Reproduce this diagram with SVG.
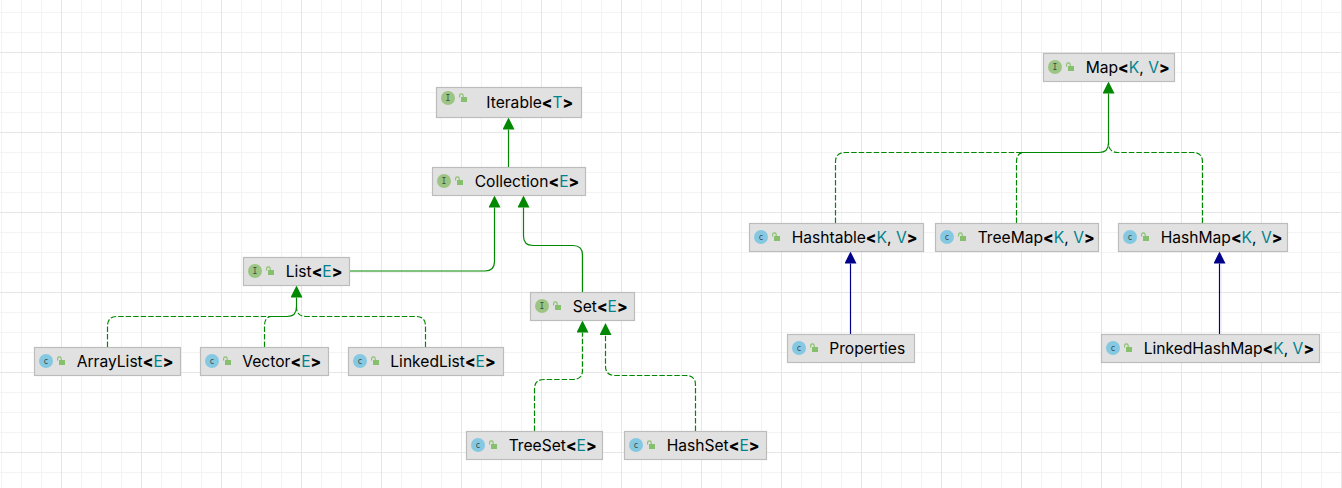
<svg xmlns="http://www.w3.org/2000/svg" xmlns:xlink="http://www.w3.org/1999/xlink" width="1342" height="488" viewBox="0 0 1342 488">
<style>
.box{fill:#e1e1e1;stroke:#bcbcbc;stroke-width:1.2}
.lbl{font-family:Inter,"Liberation Sans",sans-serif;font-size:15.6px;fill:#000}
.b{font-weight:800}
.t{fill:#00838f}
.ic{font-family:"DejaVu Sans Mono","Liberation Mono",monospace;font-size:8px;fill:#3c4a44;text-anchor:middle}
.g{fill:none;stroke:#008800;stroke-width:1.2}
.d{stroke-dasharray:5.5 2}
.n{fill:none;stroke:#00008b;stroke-width:1.2}
</style>
<defs>
<pattern id="minor" x="1" y="12" width="20" height="20" patternUnits="userSpaceOnUse"><path d="M0 0H20V1H1V20H0Z" fill="#f3f3f3"/></pattern>
<pattern id="major" x="61" y="52" width="80" height="80" patternUnits="userSpaceOnUse"><path d="M0 0H80V1H1V80H0Z" fill="#e6e6e6"/></pattern>
<marker id="ag" markerUnits="userSpaceOnUse" markerWidth="12" markerHeight="12" viewBox="0 0 12 12" refX="0" refY="6" orient="auto"><path d="M0 0L12 6L0 12Z" fill="#008800"/></marker>
<marker id="an" markerUnits="userSpaceOnUse" markerWidth="12" markerHeight="12" viewBox="0 0 12 12" refX="0" refY="6" orient="auto"><path d="M0 0L12 6L0 12Z" fill="#00008b"/></marker>
<g id="lock"><path d="M-3.400 -0.500V-2.300A1.800 1.800 0 0 1 0.200 -2.300V-0.500" fill="none" stroke="#86c06c" stroke-width="1.1"/><rect x="-2" y="-1" width="6" height="5" fill="#86c06c"/></g>
</defs>
<rect width="1342" height="488" fill="#fff"/>
<rect width="1342" height="488" fill="url(#minor)"/>
<rect width="1342" height="488" fill="url(#major)"/>
<g id="connectors">
<path class="g" marker-end="url(#ag)" d="M508.500 167V129.500"/>
<path class="g" marker-end="url(#ag)" d="M350 271H485Q494.500 271 494.500 261.500V207.500"/>
<path class="g" marker-end="url(#ag)" d="M582.500 292V255Q582.500 245.500 573 245.500H533Q523.500 245.500 523.500 236V207.500"/>
<path class="g d" d="M107.500 347V326Q107.500 316.500 117 316.500H270"/>
<path class="g d" d="M264.500 347V326Q264.500 316.500 272 316.500"/>
<path class="g" d="M270 316.500H287Q296.500 316.500 296.500 307"/>
<path class="g d" d="M425.500 347V326Q425.500 316.500 416 316.500H306Q296.500 316.500 296.500 307"/>
<path class="g" marker-end="url(#ag)" d="M296.500 307V297.500"/>
<path class="g d" marker-end="url(#ag)" d="M534.500 431V389Q534.500 379.500 544 379.500H573Q582.500 379.500 582.500 370V332.500"/>
<path class="g d" marker-end="url(#ag)" d="M695.500 431V385Q695.500 375.500 686 375.500H615Q605.500 375.500 605.500 366V335"/>
<path class="g d" d="M835.500 223V162Q835.500 152.500 845 152.500H1021"/>
<path class="g d" d="M1016.500 223V162Q1016.500 152.500 1024 152.500"/>
<path class="g" d="M1021 152.500H1099Q1108.500 152.500 1108.500 143"/>
<path class="g d" d="M1202.500 223V162Q1202.500 152.500 1193 152.500H1118Q1108.500 152.500 1108.500 143"/>
<path class="g" marker-end="url(#ag)" d="M1108.500 143V93.500"/>
<path class="n" marker-end="url(#an)" d="M850.500 334V263.500"/>
<path class="n" marker-end="url(#an)" d="M1219.500 334V263.500"/>
</g>
<g id="iterable"><rect class="box" x="436.500" y="87.500" width="145" height="30"/><circle cx="448" cy="98" r="7" fill="#9cc583"/><text class="ic" x="448" y="101">I</text><use href="#lock" x="463" y="98"/><text class="lbl" x="486.300" y="108">Iterable<tspan class="b">&lt;</tspan><tspan class="t">T</tspan><tspan class="b">&gt;</tspan></text></g>
<g id="collection"><rect class="box" x="432.500" y="167.500" width="153" height="28"/><circle cx="444" cy="181" r="7" fill="#9cc583"/><text class="ic" x="444" y="184">I</text><use href="#lock" x="459" y="181"/><text class="lbl" x="474.700" y="187">Collection<tspan class="b">&lt;</tspan><tspan class="t">E</tspan><tspan class="b">&gt;</tspan></text></g>
<g id="list"><rect class="box" x="243.500" y="257.500" width="106" height="28"/><circle cx="255" cy="271" r="7" fill="#9cc583"/><text class="ic" x="255" y="274">I</text><use href="#lock" x="270" y="271"/><text class="lbl" x="285.700" y="277">List<tspan class="b">&lt;</tspan><tspan class="t">E</tspan><tspan class="b">&gt;</tspan></text></g>
<g id="set"><rect class="box" x="530.500" y="292.500" width="104" height="28"/><circle cx="542" cy="306" r="7" fill="#9cc583"/><text class="ic" x="542" y="309">I</text><use href="#lock" x="557" y="306"/><text class="lbl" x="572.700" y="312">Set<tspan class="b">&lt;</tspan><tspan class="t">E</tspan><tspan class="b">&gt;</tspan></text></g>
<g id="arraylist"><rect class="box" x="34.500" y="347.500" width="146" height="28"/><circle cx="46" cy="361" r="7" fill="#85c8e2"/><text class="ic" x="46" y="364">c</text><use href="#lock" x="61" y="361"/><text class="lbl" x="76.700" y="367">ArrayList<tspan class="b">&lt;</tspan><tspan class="t">E</tspan><tspan class="b">&gt;</tspan></text></g>
<g id="vector"><rect class="box" x="200.500" y="347.500" width="128" height="28"/><circle cx="212" cy="361" r="7" fill="#85c8e2"/><text class="ic" x="212" y="364">c</text><use href="#lock" x="227" y="361"/><text class="lbl" x="242.300" y="367">Vector<tspan class="b">&lt;</tspan><tspan class="t">E</tspan><tspan class="b">&gt;</tspan></text></g>
<g id="linkedlist"><rect class="box" x="348.500" y="347.500" width="155" height="28"/><circle cx="360" cy="361" r="7" fill="#85c8e2"/><text class="ic" x="360" y="364">c</text><use href="#lock" x="375" y="361"/><text class="lbl" x="390.300" y="367">LinkedList<tspan class="b">&lt;</tspan><tspan class="t">E</tspan><tspan class="b">&gt;</tspan></text></g>
<g id="treeset"><rect class="box" x="466.500" y="431.500" width="136" height="28"/><circle cx="478" cy="445" r="7" fill="#85c8e2"/><text class="ic" x="478" y="448">c</text><use href="#lock" x="493" y="445"/><text class="lbl" x="508.700" y="451">TreeSet<tspan class="b">&lt;</tspan><tspan class="t">E</tspan><tspan class="b">&gt;</tspan></text></g>
<g id="hashset"><rect class="box" x="624.500" y="431.500" width="142" height="28"/><circle cx="636" cy="445" r="7" fill="#85c8e2"/><text class="ic" x="636" y="448">c</text><use href="#lock" x="651" y="445"/><text class="lbl" x="666.700" y="451">HashSet<tspan class="b">&lt;</tspan><tspan class="t">E</tspan><tspan class="b">&gt;</tspan></text></g>
<g id="map"><rect class="box" x="1043.500" y="53.500" width="131" height="28"/><circle cx="1055" cy="67" r="7" fill="#9cc583"/><text class="ic" x="1055" y="70">I</text><use href="#lock" x="1070" y="67"/><text class="lbl" x="1085.700" y="73">Map<tspan class="b">&lt;</tspan><tspan class="t">K</tspan>, <tspan class="t">V</tspan><tspan class="b">&gt;</tspan></text></g>
<g id="hashtable"><rect class="box" x="749.500" y="223.500" width="174" height="28"/><circle cx="761" cy="237" r="7" fill="#85c8e2"/><text class="ic" x="761" y="240">c</text><use href="#lock" x="776" y="237"/><text class="lbl" x="791.700" y="243">Hashtable<tspan class="b">&lt;</tspan><tspan class="t">K</tspan>, <tspan class="t">V</tspan><tspan class="b">&gt;</tspan></text></g>
<g id="treemap"><rect class="box" x="935.500" y="223.500" width="163" height="28"/><circle cx="947" cy="237" r="7" fill="#85c8e2"/><text class="ic" x="947" y="240">c</text><use href="#lock" x="962" y="237"/><text class="lbl" x="977.700" y="243">TreeMap<tspan class="b">&lt;</tspan><tspan class="t">K</tspan>, <tspan class="t">V</tspan><tspan class="b">&gt;</tspan></text></g>
<g id="hashmap"><rect class="box" x="1118.500" y="223.500" width="169" height="28"/><circle cx="1130" cy="237" r="7" fill="#85c8e2"/><text class="ic" x="1130" y="240">c</text><use href="#lock" x="1145" y="237"/><text class="lbl" x="1160.700" y="243">HashMap<tspan class="b">&lt;</tspan><tspan class="t">K</tspan>, <tspan class="t">V</tspan><tspan class="b">&gt;</tspan></text></g>
<g id="properties"><rect class="box" x="787.500" y="334.500" width="127" height="28"/><circle cx="799" cy="348" r="7" fill="#85c8e2"/><text class="ic" x="799" y="351">c</text><use href="#lock" x="814" y="348"/><text class="lbl" x="829.300" y="354">Properties</text></g>
<g id="linkedhashmap"><rect class="box" x="1101.500" y="334.500" width="218" height="28"/><circle cx="1113" cy="348" r="7" fill="#85c8e2"/><text class="ic" x="1113" y="351">c</text><use href="#lock" x="1128" y="348"/><text class="lbl" x="1143.700" y="354">LinkedHashMap<tspan class="b">&lt;</tspan><tspan class="t">K</tspan>, <tspan class="t">V</tspan><tspan class="b">&gt;</tspan></text></g>
</svg>
